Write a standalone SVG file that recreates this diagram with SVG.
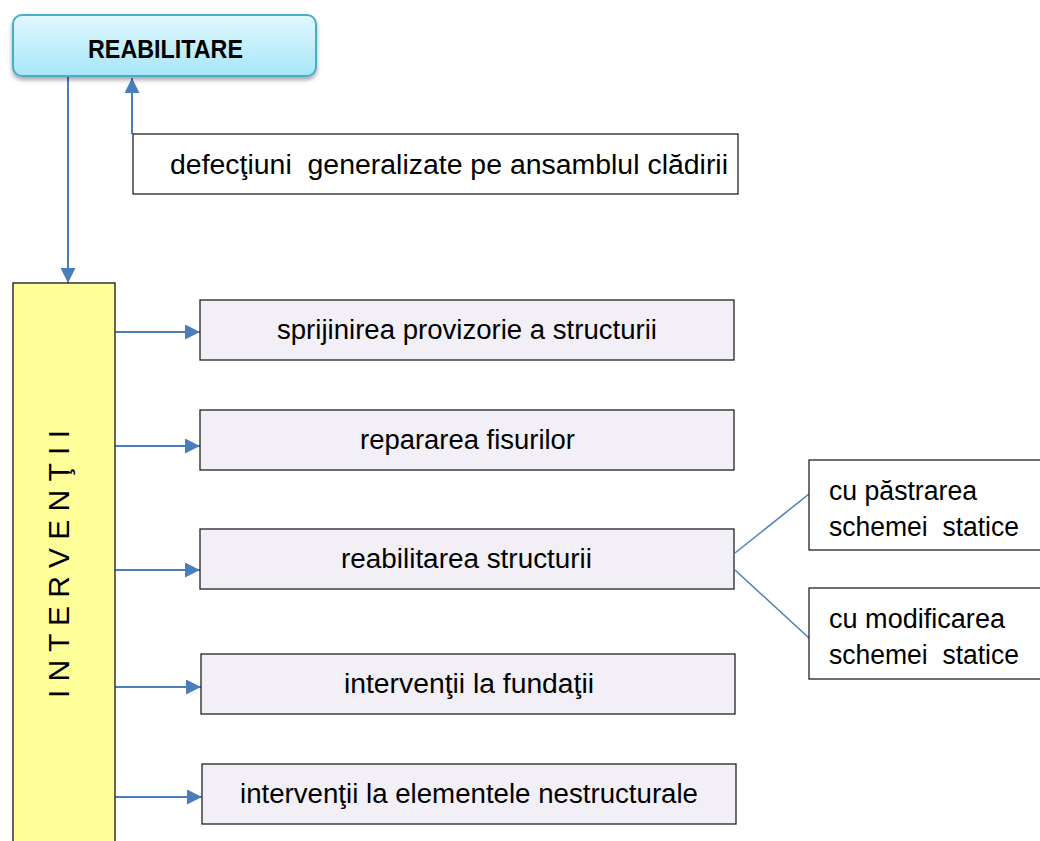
<svg xmlns="http://www.w3.org/2000/svg" width="1040" height="841" viewBox="0 0 1040 841">
<style>
text{font-family:"Liberation Sans",Arial,sans-serif;fill:#000}
.box{fill:#F2F0F6;stroke:#222;stroke-width:1.3}
.wbox{fill:#fff;stroke:#222;stroke-width:1.3}
.lbl{font-size:27px;text-anchor:middle}
.side{font-size:27px}
.conn{stroke:#4A7EBB;stroke-width:2;fill:none}
.thin{stroke:#4A7EBB;stroke-width:1.5;fill:none}
</style>
<defs>
<linearGradient id="g" x1="0" y1="0" x2="0" y2="1"><stop offset="0" stop-color="#E2F8FE"/><stop offset="1" stop-color="#A6E6FA"/></linearGradient>
<marker id="ab" viewBox="0 0 10 10" refX="10" refY="5" markerWidth="15" markerHeight="15" markerUnits="userSpaceOnUse" orient="auto"><path d="M0,0L10,5L0,10z" fill="#4A7EBB"/></marker>
<filter id="sh" x="-10%" y="-20%" width="120%" height="150%"><feDropShadow dx="0" dy="3" stdDeviation="2" flood-color="#000" flood-opacity="0.35"/></filter>
</defs>
<g id="connectors">
<line class="conn" x1="68" y1="76" x2="68" y2="283" marker-end="url(#ab)"/>
<line class="conn" x1="132" y1="134" x2="132" y2="78" marker-end="url(#ab)"/>
<line class="conn" x1="115" y1="332" x2="200" y2="332" marker-end="url(#ab)"/>
<line class="conn" x1="115" y1="446" x2="200" y2="446" marker-end="url(#ab)"/>
<line class="conn" x1="115" y1="570" x2="200" y2="570" marker-end="url(#ab)"/>
<line class="conn" x1="115" y1="687" x2="201" y2="687" marker-end="url(#ab)"/>
<line class="conn" x1="115" y1="797" x2="202" y2="797" marker-end="url(#ab)"/>
<line class="thin" x1="735" y1="553" x2="809" y2="494"/>
<line class="thin" x1="735" y1="570" x2="809" y2="638"/>
</g>
<g id="reabilitare">
<rect x="13" y="15" width="303" height="61" rx="9" fill="url(#g)" stroke="#4BACC6" stroke-width="2" filter="url(#sh)"/>
<text x="165.5" y="58" font-size="25" font-weight="bold" text-anchor="middle" textLength="155" lengthAdjust="spacingAndGlyphs">REABILITARE</text>
</g>
<g id="defectiuni">
<rect class="wbox" x="133" y="134" width="605" height="60"/>
<text class="lbl" x="449" y="174" textLength="558" lengthAdjust="spacingAndGlyphs" xml:space="preserve">defecţiuni  generalizate pe ansamblul clădirii</text>
</g>
<g id="interventii">
<rect x="13" y="283" width="102" height="570" fill="#FFFF99" stroke="#333" stroke-width="1.5"/>
<text transform="translate(69,564) rotate(-90)" font-size="30" text-anchor="middle" textLength="268" lengthAdjust="spacing">I N T E R V E N Ţ I I</text>
</g>
<g id="sprijinirea">
<rect class="box" x="200" y="300" width="534" height="60"/>
<text class="lbl" x="467" y="338.5" textLength="380" lengthAdjust="spacingAndGlyphs">sprijinirea provizorie a structurii</text>
</g>
<g id="repararea">
<rect class="box" x="200" y="410" width="534" height="60"/>
<text class="lbl" x="467.5" y="448.5" textLength="215" lengthAdjust="spacingAndGlyphs">repararea fisurilor</text>
</g>
<g id="reabilitarea">
<rect class="box" x="200" y="529" width="534" height="60"/>
<text class="lbl" x="466.5" y="567.5" textLength="251" lengthAdjust="spacingAndGlyphs">reabilitarea structurii</text>
</g>
<g id="fundatii">
<rect class="box" x="201" y="654" width="534" height="60"/>
<text class="lbl" x="469" y="692.5" textLength="250" lengthAdjust="spacingAndGlyphs">intervenţii la fundaţii</text>
</g>
<g id="nestructurale">
<rect class="box" x="202" y="764" width="534" height="60"/>
<text class="lbl" x="469" y="802.5" textLength="458" lengthAdjust="spacingAndGlyphs">intervenţii la elementele nestructurale</text>
</g>
<g id="pastrarea">
<rect class="wbox" x="809" y="460" width="240" height="90"/>
<text class="side" x="829" y="500" textLength="148" lengthAdjust="spacingAndGlyphs">cu păstrarea</text>
<text class="side" x="829" y="536" textLength="190" lengthAdjust="spacingAndGlyphs" xml:space="preserve">schemei  statice</text>
</g>
<g id="modificarea">
<rect class="wbox" x="809" y="588" width="240" height="91"/>
<text class="side" x="829" y="628" textLength="176" lengthAdjust="spacingAndGlyphs">cu modificarea</text>
<text class="side" x="829" y="664" textLength="190" lengthAdjust="spacingAndGlyphs" xml:space="preserve">schemei  statice</text>
</g>
</svg>
